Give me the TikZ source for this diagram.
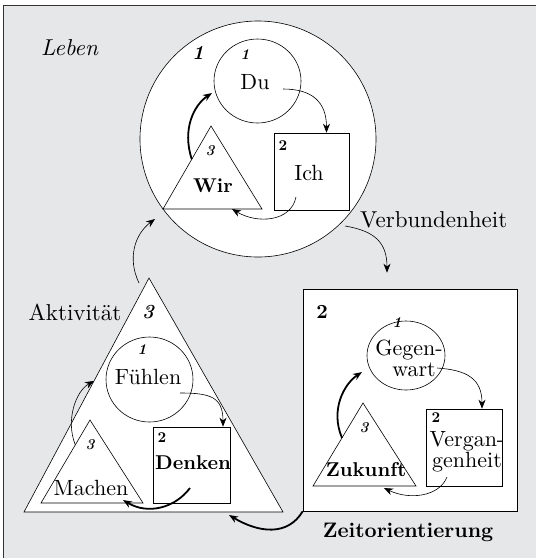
\documentclass[tikz,border=0pt]{standalone}
\usepackage{fontspec}
\setmainfont{lmroman10-regular.otf}[ BoldFont = lmroman10-bold.otf
                                   , ItalicFont = lmroman10-italic.otf
                                   , BoldItalicFont = lmroman10-bolditalic.otf ]
\usepackage{tikz}
\usetikzlibrary{arrows.meta, shapes.geometric, calc}

\definecolor{panel}{RGB}{230,231,232}

\begin{document}
\begin{tikzpicture}[ x = 1pt, y = -1pt
                   , >={Stealth[length=9pt, width=7pt]}
                   , fig/.style = { draw = black, fill = white, line width = 0.6pt }
                   , ring/.style = { fig, ellipse, inner sep = 0pt }
                   , box/.style = { fig, rectangle, inner sep = 0pt }
                   , every node/.style = { inner sep = 0pt, align = center }
                   , word/.style = { font = \fontsize{22}{21}\selectfont }
                   , wordbf/.style = { font = \fontsize{20}{21}\selectfont\bfseries }
                   , title/.style = { font = \fontsize{23}{24}\selectfont }
                   , num/.style = { font = \fontsize{15}{15}\selectfont\bfseries\itshape }
                   , numup/.style = { font = \fontsize{15}{15}\selectfont\bfseries }
                   , bignum/.style = { font = \fontsize{20}{20}\selectfont\bfseries }
                   , flow/.style = { ->, line width = 0.6pt }
                   , strong/.style = { ->, line width = 1.8pt }
                   ]

  % panel
  \clip (0,0) rectangle (536,558);
  \filldraw[fill = panel, draw = black!80, line width = 0.8pt] (3.5,5) rectangle (560,580);

  % Leben
  \node[ring, minimum width = 236pt, minimum height = 236pt] (leben) at (258,139) {};
  \node[ring, minimum width = 87pt, minimum height = 84pt] (du) at (257.5,81) {};
  \node[box, minimum width = 75pt, minimum height = 77pt] (ich) at (311.5,171.5) {};
  \draw[fig] (211,126) coordinate (wir top) -- (262,209) coordinate (wir right)
    -- (163,209) coordinate (wir left) -- cycle;

  \node[title] (leben label) [anchor = west] at (41,48) {\itshape Leben};
  \node[bignum] (leben num) at (198,53) {\itshape 1};
  \node[num] (du num) at (245,55) {1};
  \node[word] (du label) at (255,82) {Du};
  \node[numup] (ich num) at (283,146) {2};
  \node[word] (ich label) at (309,173) {Ich};
  \node[num] (wir num) at (210,151) {3};
  \node[wordbf] (wir label) at (213,186) {Wir};

  \draw[flow] ($(du.center)+(25.5,8)$) .. controls +(30,0) and +(0,-30) .. ($(ich.north)+(15,0)$);
  \draw[flow] ($(ich.center)+(-15.5,25.5)$) .. controls +(-5,25) and +(25,15) .. ($(wir right)+(-30,0)$);
  \draw[strong] ($(wir left)!0.6!(wir top)$) .. controls +(-10,-30) and +(-18,12) .. ($(du.center)+(-45.5,12)$);

  % Verbundenheit
  \node[title] (verb label) [anchor = west] at (360,220) {Verbundenheit};

  % Zeitorientierung
  \node[box, minimum width = 214pt, minimum height = 222pt] (zeit) at (410,400) {};
  \node[ring, minimum width = 78pt, minimum height = 69pt] (gegen) at (406,355.5) {};
  \node[box, minimum width = 76pt, minimum height = 77pt] (verg) at (464,447.5) {};
  \draw[fig] (363,403) coordinate (zuk top) -- (416,486) coordinate (zuk right)
    -- (313,486) coordinate (zuk left) -- cycle;

  \node[bignum] (zeit num) at (322,312) {2};
  \node[num] (gegen num) at (397,323) {1};
  \node[word] (gegen label) at (409,358) {Gegen-\\\hspace*{10pt}wart};
  \node[numup] (verg num) at (436,418) {2};
  \node[word] (verg label) at (467,452) {Vergan-\\genheit};
  \node[num] (zuk num) at (364,428) {3};
  \node[wordbf] (zuk label) at (366,470) {Zukunft};
  \node[font = \fontsize{21}{22}\selectfont\bfseries] (zeit label) at (408,532) {Zeitorientierung};

  \draw[flow] ($(gegen.center)+(31,12.5)$) .. controls +(30,2) and +(0,-30) .. ($(verg.north)+(18,0)$);
  \draw[flow] ($(verg.center)+(-17,29.5)$) .. controls +(-8,20) and +(25,12) .. ($(zuk right)+(-32,2)$);
  \draw[strong] ($(zuk left)!0.58!(zuk top)$) .. controls +(-12,-28) and +(-18,12) .. ($(gegen.center)+(-44,16.5)$);

  % Aktivitaet
  \draw[fig] (149,278) coordinate (akt top) -- (283,512) coordinate (akt right)
    -- (24,512) coordinate (akt left) -- cycle;
  \node[ring, minimum width = 87pt, minimum height = 85pt] (fuehlen) at (149.5,379.5) {};
  \node[box, minimum width = 77pt, minimum height = 76pt] (denken) at (191.5,465) {};
  \draw[fig] (90,420) coordinate (machen top) -- (143,503) coordinate (machen right)
    -- (41,503) coordinate (machen left) -- cycle;

  \node[title] (akt label) at (75,312) {Aktivität};
  \node[bignum] (akt num) at (148,312) {\itshape 3};
  \node[num] (fuehlen num) at (142,350) {1};
  \node[word] (fuehlen label) at (148,377) {Fühlen};
  \node[numup] (denken num) at (162,438) {2};
  \node[wordbf] (denken label) at (193,463) {Denken};
  \node[num] (machen num) at (90,445) {3};
  \node[word] (machen label) at (91,488) {Machen};

  \draw[flow] ($(fuehlen.center)+(30.5,13.5)$) .. controls +(30,0) and +(0,-30) .. ($(denken.north)+(31.5,0)$);
  \draw[strong] ($(denken.center)+(-1.5,23)$) .. controls +(-15,20) and +(25,15) .. ($(machen right)+(-20,-3)$);
  \draw[flow] ($(machen top)!0.3!(machen left)$) .. controls +(-10,-25) and +(-18,10) .. ($(akt top)!0.44!(akt left)$);

  % links between the groups
  \draw[flow] ($(akt top)+(-10,5)$) .. controls +(-12,-25) and +(-20,15) .. ($(leben.center)+(-103,80)$);
  \draw[flow] ($(leben.center)+(87,87)$) .. controls +(30,5) and +(0,-30) .. ($(zeit.north)+(-23,-16)$);
  \draw[strong] (zeit.south west) .. controls +(-15,25) and +(30,18) .. ($(akt right)+(-54,3)$);

\end{tikzpicture}
\end{document}
